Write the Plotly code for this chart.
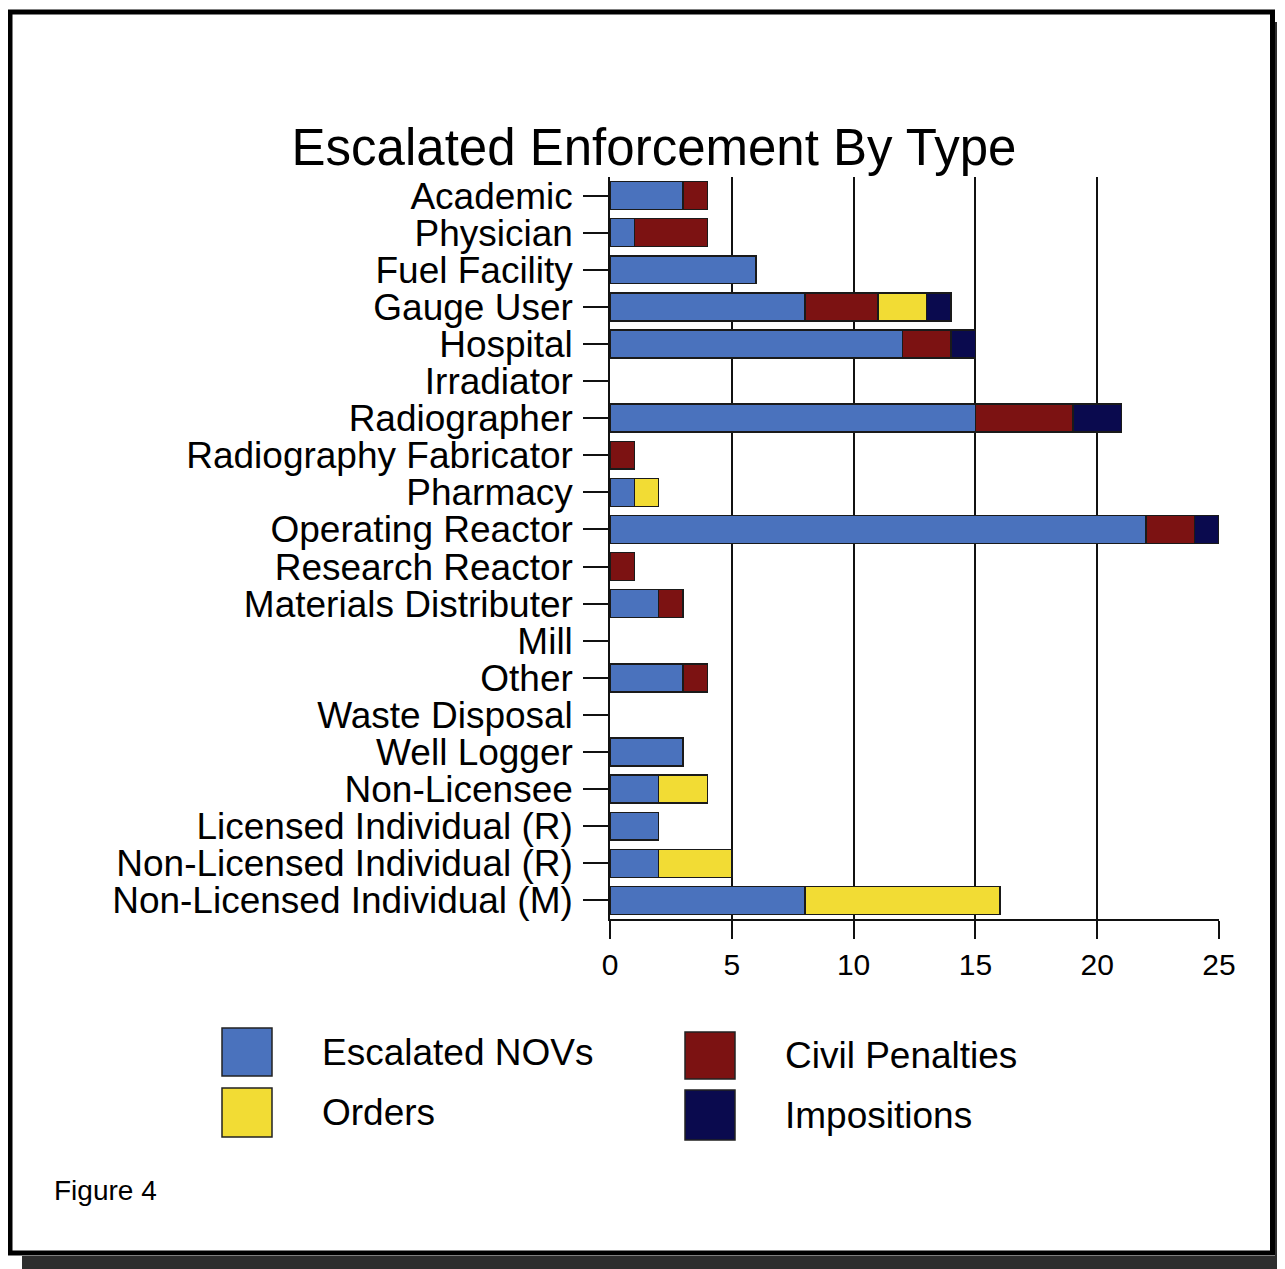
import plotly.graph_objects as go

# ---------------- data ----------------
categories = [
    "Academic", "Physician", "Fuel Facility", "Gauge User", "Hospital",
    "Irradiator", "Radiographer", "Radiography Fabricator", "Pharmacy",
    "Operating Reactor", "Research Reactor", "Materials Distributer", "Mill",
    "Other", "Waste Disposal", "Well Logger", "Non-Licensee",
    "Licensed Individual (R)", "Non-Licensed Individual (R)",
    "Non-Licensed Individual (M)",
]
escalated_novs = [3, 1, 6, 8, 12, 0, 15, 0, 1, 22, 0, 2, 0, 3, 0, 3, 2, 2, 2, 8]
civil_penalties = [1, 3, 0, 3, 2, 0, 4, 1, 0, 2, 1, 1, 0, 1, 0, 0, 0, 0, 0, 0]
orders = [0, 0, 0, 2, 0, 0, 0, 0, 1, 0, 0, 0, 0, 0, 0, 0, 2, 0, 3, 8]
impositions = [0, 0, 0, 1, 1, 0, 2, 0, 0, 1, 0, 0, 0, 0, 0, 0, 0, 0, 0, 0]

series_names = ["Escalated NOVs", "Civil Penalties", "Orders", "Impositions"]
series_values = [escalated_novs, civil_penalties, orders, impositions]
series_colors = ["#4a72bd", "#7c1212", "#f2dc34", "#0a0a4e"]

x_ticks = [0, 5, 10, 15, 20, 25]
title_text = "Escalated Enforcement By Type"
footer_text = "Figure 4"

# ---------------- layout geometry (pixels, window coords) ----------------
OFF = 8  # default body margin of the html page
W, H = 1285 - OFF, 1269 - OFF
PL, PR, PT, PB = 610, 1219, 177, 919  # plot area in window pixels
FONT = "Liberation Sans, Arial, Helvetica, sans-serif"


def px_x(px):
    return (px - PL) / (PR - PL)


def px_y(py):
    return (PB - py) / (PB - PT)


fig = go.Figure()
for name, vals, col in zip(series_names, series_values, series_colors):
    fig.add_trace(go.Bar(
        y=categories, x=vals, name=name, orientation="h",
        marker=dict(color=col,
                    line=dict(color="#1a1a1a",
                              width=[1.5 if v > 0 else 0 for v in vals])),
        showlegend=False,
    ))

shapes = []
annotations = []

# frame shadow (right and bottom)
shapes.append(dict(type="rect", xref="paper", yref="paper",
                   x0=px_x(1275), x1=px_x(1295), y0=px_y(1280), y1=px_y(22),
                   fillcolor="#2e2e2e", line=dict(width=0), layer="below"))
shapes.append(dict(type="rect", xref="paper", yref="paper",
                   x0=px_x(22), x1=px_x(1295), y0=px_y(1280), y1=px_y(1256),
                   fillcolor="#2e2e2e", line=dict(width=0), layer="below"))
# frame border
shapes.append(dict(type="rect", xref="paper", yref="paper",
                   x0=px_x(10), x1=px_x(1272.5), y0=px_y(1253), y1=px_y(12),
                   line=dict(color="black", width=5), fillcolor="white",
                   layer="below"))

# custom legend: 2 x 2 grid of large swatches
legend_pos = {
    "Escalated NOVs": (222, 1028, 1076),
    "Orders": (222, 1088, 1137),
    "Civil Penalties": (685, 1032, 1079),
    "Impositions": (685, 1090, 1140),
}
for name, col in zip(series_names, series_colors):
    lx, ty, by = legend_pos[name]
    shapes.append(dict(type="rect", xref="paper", yref="paper",
                       x0=px_x(lx), x1=px_x(lx + 50), y0=px_y(by), y1=px_y(ty),
                       fillcolor=col, line=dict(color="#222222", width=1.5)))
    annotations.append(dict(xref="paper", yref="paper",
                            x=px_x(lx + 98), y=px_y((ty + by) / 2),
                            xanchor="left", yanchor="middle", showarrow=False,
                            text=name, font=dict(family=FONT, size=37, color="black")))

annotations.append(dict(xref="paper", yref="paper", x=px_x(52), y=px_y(1190),
                        xanchor="left", yanchor="middle", showarrow=False,
                        text=footer_text,
                        font=dict(family=FONT, size=28, color="black")))

fig.update_layout(
    width=W, height=H,
    margin=dict(l=PL - OFF, r=(W + OFF) - PR, t=PT - OFF, b=(H + OFF) - PB, pad=0),
    paper_bgcolor="white", plot_bgcolor="white",
    barmode="stack", bargap=0.25,
    title=dict(text=title_text, x=(654 - OFF) / W, xanchor="center",
               y=1 - (147 - OFF) / H, yanchor="middle", yref="container",
               font=dict(family=FONT, size=51, color="black")),
    shapes=shapes, annotations=annotations,
    showlegend=False,
    xaxis=dict(range=[0, 25], tickmode="array", tickvals=x_ticks,
               ticktext=[str(t) for t in x_ticks],
               showgrid=True, gridcolor="#111111", gridwidth=1.5,
               showline=True, linecolor="#111111", linewidth=1.5,
               ticks="outside", ticklen=18, tickcolor="#111111", tickwidth=1.5,
               zeroline=False, fixedrange=True,
               tickfont=dict(family=FONT, size=30, color="black")),
    yaxis=dict(categoryorder="array", categoryarray=categories,
               tickmode="array", tickvals=categories, ticktext=categories,
               autorange="reversed", showgrid=False,
               showline=True, linecolor="#111111", linewidth=1.5,
               ticks="outside", ticklen=25, tickcolor="#111111", tickwidth=1.5,
               ticklabelstandoff=3, fixedrange=True,
               tickfont=dict(family=FONT, size=37, color="black")),
)

fig.write_html("out.html")
